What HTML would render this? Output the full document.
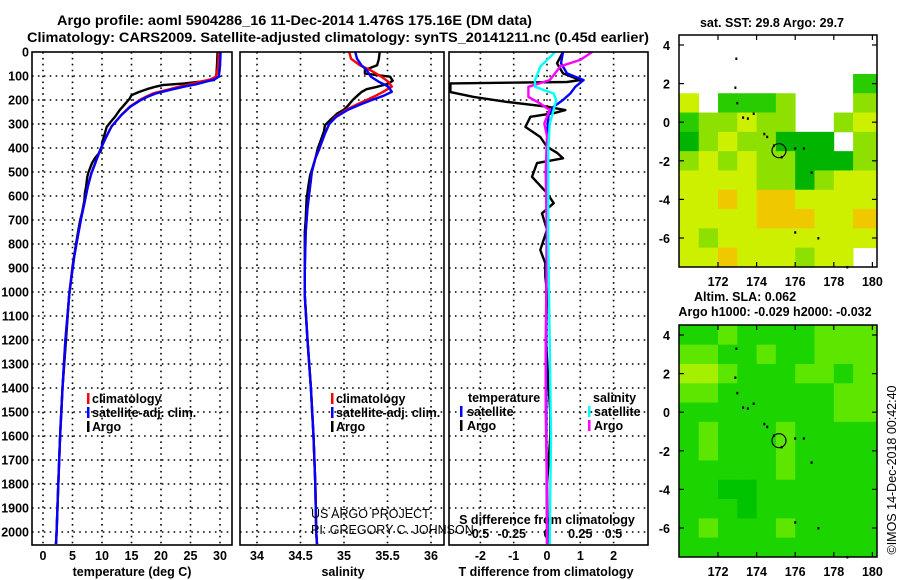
<!DOCTYPE html>
<html><head><meta charset="utf-8">
<style>
html,body{margin:0;padding:0;background:#fff;}
svg{display:block;font-family:"Liberation Sans",sans-serif;}
.b{font-weight:bold;font-size:12.5px;}
.t{font-weight:bold;font-size:13.5px;}
</style></head>
<body>
<svg id="fig" width="900" height="580" viewBox="0 0 900 580">
<text class="t" x="57" y="25" textLength="475" lengthAdjust="spacingAndGlyphs">Argo profile: aoml 5904286_16 11-Dec-2014 1.476S 175.16E (DM data)</text>
<text class="t" x="27" y="42" textLength="622" lengthAdjust="spacingAndGlyphs">Climatology: CARS2009. Satellite-adjusted climatology: synTS_20141211.nc (0.45d earlier)</text>
<g id="layer"></g>
</svg>
<script>
// ---------- DATA ----------
const depthTicks = [0,100,200,300,400,500,600,700,800,900,1000,1100,1200,1300,1400,1500,1600,1700,1800,1900,2000];
const tempTicks = [0,5,10,15,20,25,30];
const salTicks = [34,34.5,35,35.5,36];
const salTickLabels = ["34","34.5","35","35.5","36"];
const tdiffTicks = [-2,-1,0,1,2];
const sdiffTicks = [-0.5,-0.25,0,0.25,0.5];

const argoDepth = [0,47,89,103,117,131,138,145,155,167,180,194,208,228,242,259,270,290,312,330,354,380,395,412,443,463,502,520,560,588,621,672,700,741,800,894,1020,1200,1400,1600,1800,2000,2050];
const argoTemp  = [29.6,29.5,29.4,29.3,29.0,24.0,20.3,19.0,17.6,16.2,15.0,14.7,14.2,13.5,13.0,12.5,12.2,11.5,10.8,10.6,10.3,10.0,10.0,9.8,8.8,8.3,7.7,7.5,7.3,7.1,7.0,6.6,6.3,6.0,5.6,5.0,4.4,3.9,3.3,2.9,2.6,2.3,2.2];
const climDepth = [0,60,103,115,124,134,144,158,172,186,200,228,262,311,360,408,460,505,560,620,700,755,850,1000,1200,1400,1600,1800,2000,2050];
const climTemp  = [29.8,29.7,29.3,28.3,26.6,25.0,23.2,21.0,18.7,17.5,16.4,14.7,13.3,11.6,10.6,9.7,8.9,8.2,7.6,7.1,6.4,6.0,5.3,4.5,3.8,3.3,2.9,2.6,2.3,2.2];
const satTemp   = [30.1,30.0,29.8,29.0,27.5,26.0,24.0,21.5,19.2,17.8,16.6,14.8,13.3,11.6,10.6,9.7,8.9,8.2,7.6,7.1,6.4,6.0,5.3,4.5,3.8,3.3,2.9,2.6,2.3,2.2];

const argoSalDepth = [0,30,55,75,90,103,120,133,145,155,167,180,200,222,240,257,280,306,330,361,400,444,480,514,560,612,700,750,900,1014,1200,1400,1600,1800,2000,2050];
const argoSal      = [35.41,35.40,35.38,35.24,35.24,35.53,35.56,35.50,35.38,35.26,35.20,35.16,35.10,35.05,35.00,34.92,34.85,34.78,34.77,34.74,34.70,34.67,34.64,34.61,34.59,34.57,34.56,34.55,34.55,34.55,34.58,34.62,34.65,34.67,34.68,34.69];
const climSalDepth = [0,28,55,75,103,124,144,166,183,200,220,240,270,300,340,400,444,500,560,650,750,900,1014,1200,1400,1600,1800,2000,2050];
const climSal      = [35.06,35.08,35.18,35.30,35.43,35.51,35.55,35.45,35.36,35.26,35.14,35.03,34.90,34.83,34.78,34.72,34.67,34.63,34.61,34.58,34.56,34.55,34.55,34.58,34.62,34.65,34.67,34.68,34.69];
const satSal       = [35.13,35.15,35.20,35.26,35.31,35.40,35.51,35.55,35.45,35.32,35.18,35.05,34.91,34.83,34.78,34.72,34.67,34.63,34.61,34.58,34.56,34.55,34.55,34.58,34.62,34.65,34.67,34.68,34.69];

const dTDepth = [0,47,89,117,125,131,145,167,187,208,228,242,255,270,312,354,395,420,443,463,520,588,630,672,741,825,880,935,1000,1200,1400,1500,1600,1700,1800,2000,2050];
const dTArgo  = [0.48,0.30,0.48,1.00,0.6,-2.9,-2.9,-2.9,-2.2,-1.2,0.0,0.55,0.2,-0.5,-0.65,-0.2,0.0,0.3,0.48,-0.3,-0.45,0.0,0.2,-0.15,0.0,-0.2,-0.05,-0.05,0.0,-0.03,0.05,0.1,0.1,0.05,0.0,0.02,0.02];
const dTSatDepth = [0,47,89,117,145,173,200,228,260,300,400,600,1000,1500,2000,2050];
const dTSat      = [0.48,0.42,0.60,1.10,0.85,0.70,0.48,0.20,0.05,0.02,0.0,0.0,-0.02,-0.02,0.0,0.0];
const dSArgoDepth = [0,33,60,89,117,145,187,215,242,298,350,500,800,1200,1500,1800,2050];
const dSArgo      = [0.34,0.25,0.10,0.06,0.02,-0.14,-0.14,-0.05,0.02,-0.02,0.0,-0.01,0.0,-0.01,-0.01,0.0,0.0];
const dSSatDepth = [0,60,117,145,173,200,242,300,400,800,1200,1600,2050];
const dSSat      = [0.06,-0.05,-0.09,-0.09,0.05,0.07,0.05,0.02,0.01,0.01,0.02,0.03,0.02];

// map data: rows lat 4.5 -> -7.5 (1 deg), cols lon 170 -> 179
const sstLatTicks = [4,2,0,-2,-4,-6];
const lonTicks = [172,174,176,178,180];
const sstCodes = [
 [0,0,0,0,0,0,0,0,0,0],
 [0,0,0,0,0,0,0,0,0,0],
 [0,0,0,0,0,0,0,0,0,2],
 [4,0,2,2,2,3,0,0,0,3],
 [2,3,3,4,3,3,0,0,3,4],
 [1,3,4,3,3,1,1,1,0,3],
 [3,4,3,4,3,3,1,1,1,3],
 [4,4,4,4,3,3,1,3,4,4],
 [4,4,5,4,5,5,4,4,4,4],
 [4,4,4,4,5,5,5,4,4,5],
 [4,3,4,4,4,4,4,4,4,4],
 [4,4,5,4,4,4,3,4,4,0]];
const slaCodes = [
 [2,2,3,2,2,2,2,3,3,3],
 [3,3,2,2,3,2,2,3,3,3],
 [4,4,3,2,2,2,3,3,2,3],
 [3,3,2,2,2,2,2,2,3,3],
 [2,2,2,2,2,2,2,2,3,3],
 [2,3,2,2,2,3,2,2,2,2],
 [2,3,2,2,2,3,2,2,2,2],
 [2,2,2,2,2,3,2,2,2,2],
 [2,2,1,1,2,2,2,2,2,2],
 [2,2,2,1,2,2,2,2,2,2],
 [2,3,2,2,2,3,2,2,2,2],
 [2,2,2,2,2,2,2,2,2,2]];
const floatLon = 175.16, floatLat = -1.476;
const islandLon = [172.95,172.9,173.0,173.3,173.55,173.85,174.4,174.55,174.9,175.3,176.0,176.45,176.85,176.0,177.2,178.7];
const islandLat = [3.3,1.8,1.0,0.25,0.2,0.45,-0.6,-0.75,-1.2,-1.8,-1.35,-1.35,-2.6,-5.7,-6.0,-7.5];

// ---------- HELPERS ----------
const NS="http://www.w3.org/2000/svg";
const L=document.getElementById('layer');
function mk(tag,attrs,parent){const e=document.createElementNS(NS,tag);for(const k in attrs)e.setAttribute(k,attrs[k]);(parent||L).appendChild(e);return e;}
const PT=52, PB=545;
const yD = d => PT + d*0.24;
const xT = t => 43 + t*5.9;
const xS = s => 257 + (s-34)*87;
const xDT = t => 547 + t*33.3;
const xDS = s => 547 + s*133;

function panel(x0,x1,name){
  const g=mk('g',{});
  
  
  return g;
}
function hgrid(g,x0,x1){
  depthTicks.forEach(d=>{ if(d===0) return;
    const l=mk('line',{x1:x0,x2:x1,y1:yD(d),y2:yD(d),stroke:'#000','stroke-width':1.6,'stroke-dasharray':'1.6,4.3'},g);
    
    
  });
}
function vgrid(g,xs){
  xs.forEach(x=>{
    const l=mk('line',{x1:x,x2:x,y1:PT,y2:PB,stroke:'#000','stroke-width':1.6,'stroke-dasharray':'1.6,4.3'},g);
    
    
  });
}
function frame(g,x0,x1){
  const r=mk('rect',{x:x0,y:PT,width:x1-x0,height:PB-PT,fill:'none',stroke:'#000','stroke-width':1.6},g);
  
  
}
function line(g,xs,ys,color,name,clip){
  const pts=xs.map((x,i)=>x.toFixed(1)+','+ys[i].toFixed(1)).join(' ');
  const p=mk('polyline',{points:pts,fill:'none',stroke:color,'stroke-width':2.4,'stroke-linejoin':'round'},g);
  if(clip) p.setAttribute('clip-path',clip);
  
  
}
function txt(g,x,y,s,cls,anchor,name,extra){
  const t=mk('text',Object.assign({x:x,y:y,'text-anchor':anchor||'start'},extra||{}),g);
  if(cls) t.setAttribute('class',cls);
  t.textContent=s;
  
  
  return t;
}
function legMark(g,x,y,color){
  const r=mk('rect',{x:x,y:y-10,width:2.5,height:11,fill:color},g);
  
  
}

const defs=mk('defs',{});
const cp=mk('clipPath',{id:'c3'},defs);
mk('rect',{x:449,y:PT,width:199,height:PB-PT},cp);

// ---------- PANEL 1: temperature ----------
const g1=panel(32,232,'temperature-panel');
hgrid(g1,32,232); vgrid(g1,tempTicks.map(xT));
depthTicks.forEach(d=>txt(g1,29,yD(d)+4.5,String(d),'b','end','y-tick-label'));
tempTicks.forEach(t=>txt(g1,xT(t),560,String(t),'b','middle','x-tick-label'));
txt(g1,132,576,'temperature (deg C)','b','middle','x-axis-title');
line(g1,argoTemp.map(xT),argoDepth.map(yD),'#000','argo-temperature-line');
line(g1,climTemp.map(xT),climDepth.map(yD),'#f00','climatology-temperature-line');
line(g1,satTemp.map(xT),climDepth.map(yD),'#00f','satellite-temperature-line');
frame(g1,32,232);
legMark(g1,87,403,'#f00'); txt(g1,92,403,'climatology','b','start','legend-climatology');
legMark(g1,87,417,'#00f'); txt(g1,92,417,'satellite-adj. clim.','b','start','legend-satellite');
legMark(g1,87,431,'#000'); txt(g1,92,431,'Argo','b','start','legend-argo');

// ---------- PANEL 2: salinity ----------
const g2=panel(240,444,'salinity-panel');
hgrid(g2,240,444); vgrid(g2,salTicks.map(xS));
salTicks.forEach((s,i)=>txt(g2,xS(s),560,salTickLabels[i],'b','middle','x-tick-label'));
txt(g2,343,576,'salinity','b','middle','x-axis-title');
line(g2,argoSal.map(xS),argoSalDepth.map(yD),'#000','argo-salinity-line');
line(g2,climSal.map(xS),climSalDepth.map(yD),'#f00','climatology-salinity-line');
line(g2,satSal.map(xS),climSalDepth.map(yD),'#00f','satellite-salinity-line');
frame(g2,240,444);
legMark(g2,331,403,'#f00'); txt(g2,336,403,'climatology','b','start','legend-climatology');
legMark(g2,331,417,'#00f'); txt(g2,336,417,'satellite-adj. clim.','b','start','legend-satellite');
legMark(g2,331,431,'#000'); txt(g2,336,431,'Argo','b','start','legend-argo');
txt(g2,311,518,'US ARGO PROJECT','', 'start','project-credit',{'font-size':'12.5','fill':'#000'});
txt(g2,311,534,'PI: GREGORY C. JOHNSON','', 'start','pi-credit',{'font-size':'12.5','fill':'#000'});

// ---------- PANEL 3: differences ----------
const g3=panel(449,648,'difference-panel');
hgrid(g3,449,648); vgrid(g3,tdiffTicks.map(xDT));
tdiffTicks.forEach(t=>txt(g3,xDT(t),560,String(t),'b','middle','x-tick-label'));
sdiffTicks.forEach(s=>txt(g3,xDS(s)+(s<0?-2:0),538,String(s),'b','middle','s-tick-label'));
txt(g3,546,576,'T difference from climatology','b','middle','x-axis-title');
txt(g3,547,524,'S difference from climatology','b','middle','s-axis-title');
line(g3,dTArgo.map(xDT),dTDepth.map(yD),'#000','argo-tdiff-line','url(#c3)');
line(g3,dTSat.map(xDT),dTSatDepth.map(yD),'#00f','satellite-tdiff-line','url(#c3)');
line(g3,dSArgo.map(xDS),dSArgoDepth.map(yD),'#f0f','argo-sdiff-line','url(#c3)');
line(g3,dSSat.map(xDS),dSSatDepth.map(yD),'#0ff','satellite-sdiff-line','url(#c3)');
frame(g3,449,648);
txt(g3,468,402,'temperature','b','start','legend-temperature-header');
legMark(g3,460,416,'#00f'); txt(g3,467,416,'satellite','b','start','legend-t-satellite');
legMark(g3,460,430,'#000'); txt(g3,467,430,'Argo','b','start','legend-t-argo');
txt(g3,593,402,'salinity','b','start','legend-salinity-header');
legMark(g3,588,416,'#0ff'); txt(g3,594,416,'satellite','b','start','legend-s-satellite');
legMark(g3,588,430,'#f0f'); txt(g3,594,430,'Argo','b','start','legend-s-argo');

// ---------- MAPS ----------
const MX0=679, MX1=877;
const sstColors=['none','#00b400','#28cc00','#8ee000','#cdf000','#f0c800'];
const slaColors=['none','#00c400','#1cd400','#5ce600','#a4f000'];
function drawMap(top,bottom,codes,colors,name,titleLines){
  const lat4 = top+10;
  const yL = lat => lat4 + (4-lat)*19.3;
  const xL = lon => 718 + (lon-172)*19.3;
  const g=panel(MX0,MX1,name);
  codes.forEach((row,r)=>row.forEach((c,k)=>{
    if(!c) return;
    const lon=170+k, latTop=4.5-r;
    const x0=Math.max(MX0,xL(lon)), x1=Math.min(MX1,xL(lon+1)+ (k===9?5:0));
    const cell=mk('rect',{x:x0,y:yL(latTop),width:x1-x0+0.4,height:19.7,fill:colors[c]},g);
    
    
  }));
  islandLon.forEach((lo,i)=>{
    const d=mk('rect',{x:xL(lo)-1,y:yL(islandLat[i])-1,width:2,height:2.5,fill:'#000'},g);
    
    
  });
  const c=mk('circle',{cx:xL(floatLon),cy:yL(floatLat),r:7,fill:'none',stroke:'#000','stroke-width':1.2},g);
  
  
  const fr=mk('rect',{x:MX0,y:top,width:MX1-MX0,height:bottom-top,fill:'none',stroke:'#000','stroke-width':1.5},g);
  
  
  sstLatTicks.forEach(lat=>{
    txt(g,670,yL(lat)+5,String(lat),'b','end','lat-tick-label');
    mk('line',{x1:MX0,x2:MX0+5,y1:yL(lat),y2:yL(lat),stroke:'#000','stroke-width':1.2},g);
    mk('line',{x1:MX1-5,x2:MX1,y1:yL(lat),y2:yL(lat),stroke:'#000','stroke-width':1.2},g);
  });
  lonTicks.forEach(lon=>{
    txt(g,xL(lon),bottom+19,String(lon),'b','middle','lon-tick-label');
    mk('line',{x1:xL(lon),x2:xL(lon),y1:bottom-5,y2:bottom,stroke:'#000','stroke-width':1.2},g);
    mk('line',{x1:xL(lon),x2:xL(lon),y1:top,y2:top+5,stroke:'#000','stroke-width':1.2},g);
  });
  titleLines.forEach(tl=>txt(g,tl[0],tl[1],tl[2],'b','middle','map-title'));
}
drawMap(35,267,sstCodes,sstColors,'sst-map',[[772,27,'sat. SST: 29.8 Argo: 29.7']]);
drawMap(325,557,slaCodes,slaColors,'sla-map',[[745,301,'Altim. SLA: 0.062'],[775,316,'Argo h1000: -0.029 h2000: -0.032']]);
txt(L,0,0,'©IMOS 14-Dec-2018 00:42:40','', 'middle','imos-credit',{'font-size':'12.5',transform:'translate(896,470) rotate(-90)'});
</script>
</body></html>
